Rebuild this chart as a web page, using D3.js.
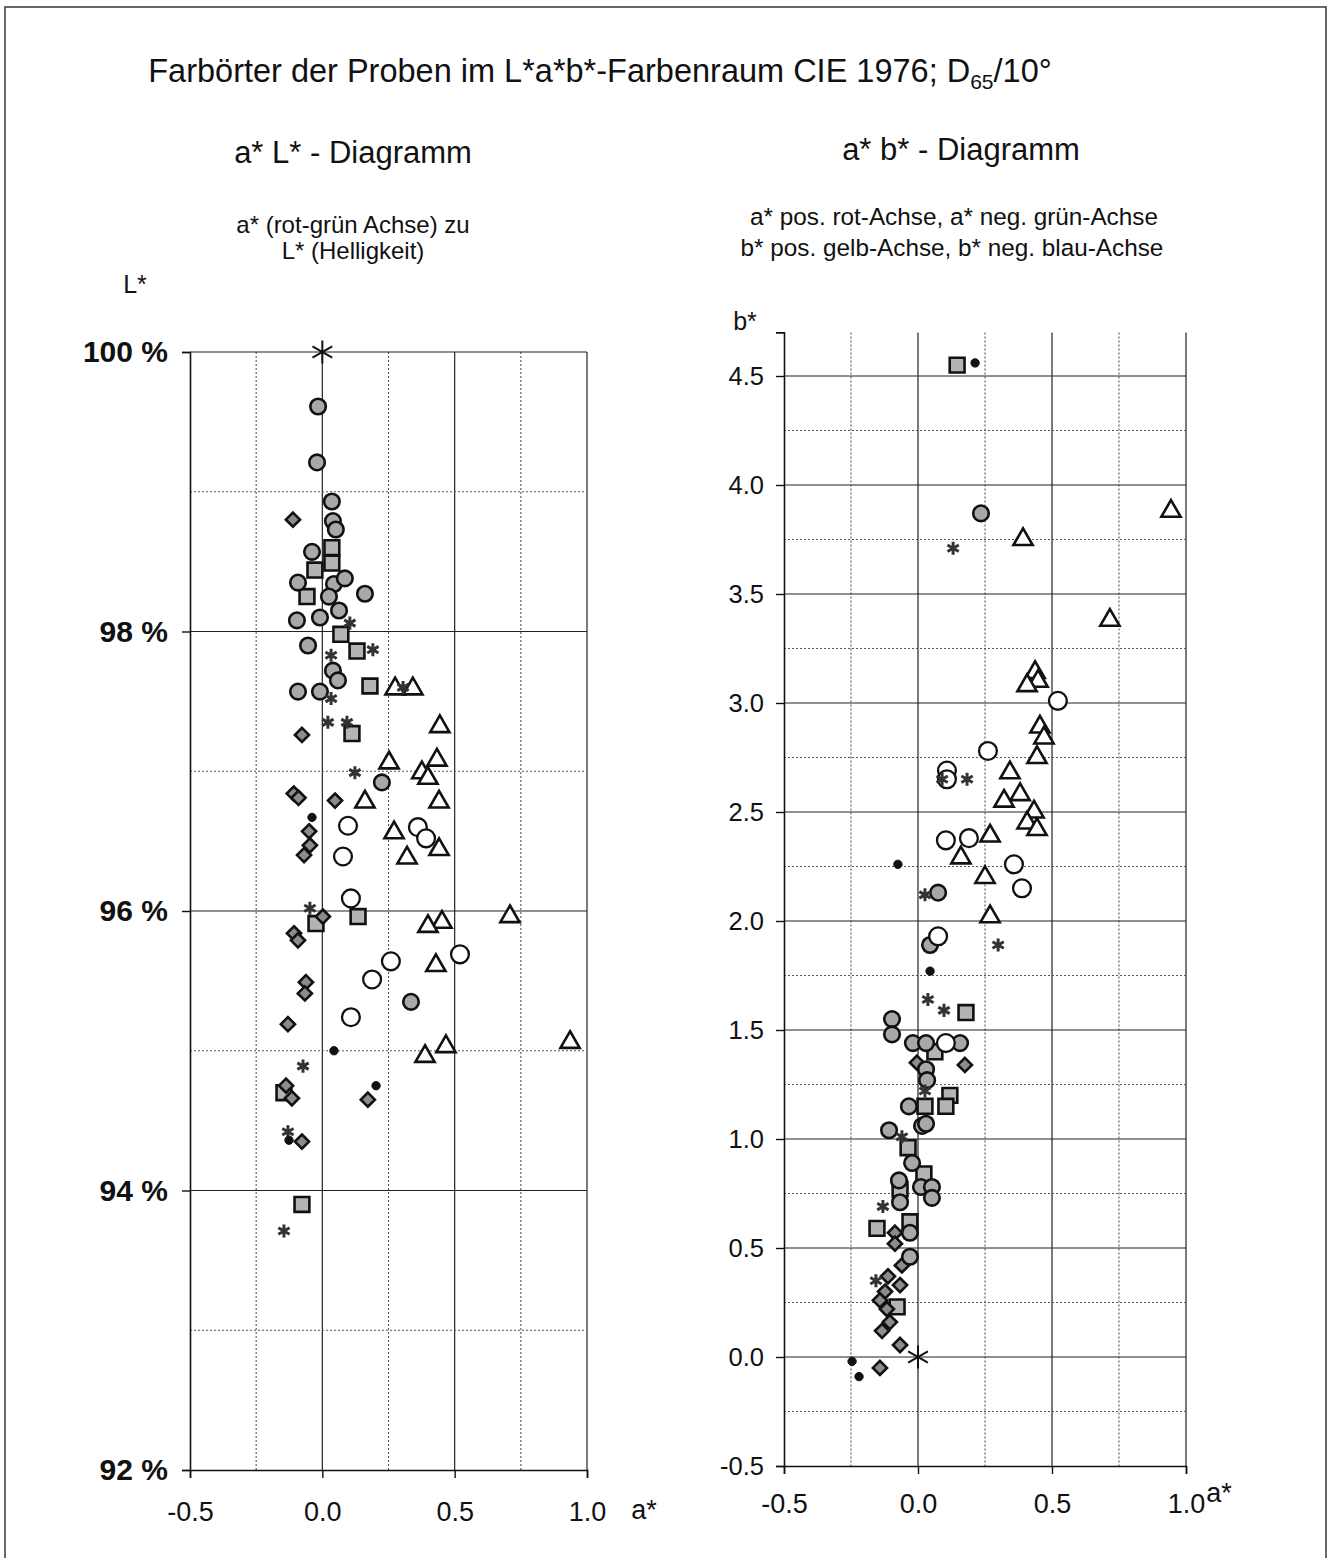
<!DOCTYPE html>
<html><head><meta charset="utf-8">
<script src="https://cdn.jsdelivr.net/npm/d3@7"></script>
<style>
html,body{margin:0;padding:0;background:#fff;}
text{font-family:"Liberation Sans",Arial,Helvetica,sans-serif;fill:#111;}
</style></head>
<body><svg id="chart" width="1333" height="1558"></svg>
<script>
// ---------- DATA ----------
// Left chart: a* vs L* (%)
const leftGrayCircle = [[-0.016,99.61],[-0.02,99.21],[0.036,98.93],[0.04,98.79],[0.051,98.73],[-0.039,98.57],[-0.092,98.35],[0.044,98.34],[0.085,98.38],[0.025,98.25],[0.161,98.27],[0.063,98.15],[-0.009,98.10],[-0.096,98.08],[-0.054,97.90],[0.04,97.72],[0.059,97.65],[-0.092,97.57],[-0.009,97.57],[0.225,96.92],[0.335,95.35]];
const leftSquare = [[0.036,98.60],[0.036,98.49],[-0.028,98.44],[-0.058,98.25],[0.07,97.98],[0.131,97.86],[0.18,97.61],[0.112,97.27],[-0.024,95.91],[0.135,95.96],[-0.145,94.70],[-0.077,93.90]];
const leftDiamond = [[-0.111,98.80],[-0.077,97.26],[-0.108,96.84],[-0.09,96.81],[0.048,96.79],[-0.05,96.57],[-0.047,96.47],[-0.069,96.40],[0.002,95.96],[-0.107,95.84],[-0.092,95.79],[-0.062,95.49],[-0.066,95.41],[-0.13,95.19],[-0.137,94.75],[-0.115,94.66],[0.172,94.65],[-0.077,94.35]];
const leftTriangle = [[0.275,97.59],[0.342,97.59],[0.444,97.32],[0.252,97.06],[0.433,97.08],[0.376,96.99],[0.399,96.95],[0.161,96.78],[0.441,96.78],[0.271,96.56],[0.441,96.44],[0.32,96.38],[0.709,95.96],[0.452,95.92],[0.399,95.89],[0.429,95.61],[0.467,95.03],[0.388,94.96],[0.936,95.06]];
const leftOpenCircle = [[0.097,96.61],[0.361,96.60],[0.392,96.52],[0.078,96.39],[0.108,96.09],[0.52,95.69],[0.259,95.64],[0.188,95.51],[0.108,95.24]];
const leftAsterisk = [[0.104,98.06],[0.191,97.87],[0.033,97.83],[0.033,97.52],[0.021,97.35],[0.093,97.35],[0.305,97.60],[0.123,96.99],[-0.047,96.02],[-0.073,94.89],[-0.13,94.42],[-0.145,93.71]];
const leftDot = [[-0.039,96.67],[0.044,95.00],[0.203,94.75],[-0.126,94.36]];
const leftReference = [[0,100]];

// Right chart: a* vs b*
const rightGrayCircle = [[0.235,3.87],[0.075,2.13],[0.045,1.89],[-0.097,1.55],[-0.097,1.48],[-0.019,1.44],[0.03,1.44],[0.157,1.44],[0.03,1.32],[0.034,1.27],[-0.034,1.15],[0.015,1.06],[0.03,1.07],[-0.108,1.04],[-0.022,0.89],[-0.071,0.81],[0.011,0.78],[0.052,0.78],[0.052,0.73],[-0.067,0.71],[-0.03,0.57],[-0.03,0.46]];
const rightSquare = [[0.146,4.55],[0.179,1.58],[0.063,1.40],[0.119,1.20],[0.104,1.15],[0.026,1.15],[-0.037,0.96],[0.022,0.84],[-0.067,0.77],[-0.03,0.62],[-0.153,0.59],[-0.078,0.23]];
const rightDiamond = [[-0.004,1.35],[0.175,1.34],[-0.086,0.57],[-0.086,0.52],[-0.06,0.42],[-0.112,0.37],[-0.067,0.33],[-0.123,0.30],[-0.142,0.26],[-0.116,0.22],[-0.105,0.16],[-0.134,0.12],[-0.067,0.055],[-0.142,-0.05]];
const rightTriangle = [[0.392,3.75],[0.944,3.88],[0.716,3.38],[0.437,3.14],[0.448,3.10],[0.407,3.08],[0.455,2.89],[0.47,2.84],[0.444,2.75],[0.343,2.68],[0.381,2.58],[0.321,2.55],[0.433,2.50],[0.407,2.45],[0.444,2.42],[0.269,2.39],[0.16,2.29],[0.25,2.20],[0.269,2.02]];
const rightOpenCircle = [[0.522,3.01],[0.261,2.78],[0.108,2.69],[0.108,2.65],[0.104,2.37],[0.19,2.38],[0.358,2.26],[0.388,2.15],[0.075,1.93],[0.104,1.44]];
const rightAsterisk = [[0.131,3.71],[0.09,2.65],[0.183,2.65],[0.026,2.12],[0.299,1.89],[0.037,1.64],[0.097,1.59],[0.026,1.22],[-0.06,1.01],[-0.131,0.69],[-0.157,0.35]];
const rightDot = [[0.213,4.56],[-0.075,2.26],[0.045,1.77],[-0.246,-0.02],[-0.22,-0.09]];
const rightReference = [[0,0]];

// Tick labels
const xTickValues = [-0.5, 0.0, 0.5, 1.0];
const xTickLabels = ["-0.5", "0.0", "0.5", "1.0"];
const leftYTickValues = [100, 98, 96, 94, 92];
const leftYTickLabels = ["100 %", "98 %", "96 %", "94 %", "92 %"];
const rightYTickValues = [4.5, 4.0, 3.5, 3.0, 2.5, 2.0, 1.5, 1.0, 0.5, 0.0, -0.5];
const rightYTickLabels = ["4.5", "4.0", "3.5", "3.0", "2.5", "2.0", "1.5", "1.0", "0.5", "0.0", "-0.5"];

// ---------- DRAW ----------
const svg = d3.select("#chart");

// outer frame
svg.append("rect").attr("x",5).attr("y",7).attr("width",1321).attr("height",1570)
  .attr("fill","none").attr("stroke","#444").attr("stroke-width",1.6);

// title
const title = svg.append("text").attr("x",600).attr("y",82).attr("text-anchor","middle")
  .attr("font-size",32.5);
title.append("tspan").text("Farbörter der Proben im L*a*b*-Farbenraum CIE 1976; D");
title.append("tspan").attr("font-size",21).attr("dy",7).text("65");
title.append("tspan").attr("dy",-7).text("/10°");

// custom symbols
const asteriskSym = { draw(ctx, size) {
  const r = Math.sqrt(size) / 2;
  const c = Math.cos(Math.PI/6) * r, s = Math.sin(Math.PI/6) * r;
  ctx.moveTo(0,-r); ctx.lineTo(0,r);
  ctx.moveTo(-c,-s); ctx.lineTo(c,s);
  ctx.moveTo(-c,s); ctx.lineTo(c,-s);
}};
const diamondSym = { draw(ctx, size) {
  const r = Math.sqrt(size) / 2;
  ctx.moveTo(0,-r); ctx.lineTo(r,0); ctx.lineTo(0,r); ctx.lineTo(-r,0); ctx.closePath();
}};

function drawPanel(cfg) {
  const g = svg.append("g");
  const x = cfg.x, y = cfg.y;
  const [x0,x1] = x.range(); const [yb, yt] = y.range();
  cfg.vGrid.forEach(v => {
    const major = Math.abs(v*2 - Math.round(v*2)) < 1e-6;
    g.append("line").attr("x1",x(v)).attr("x2",x(v)).attr("y1",yt).attr("y2",yb)
      .attr("stroke", major ? "#222" : "#555").attr("stroke-width", major ? 1.2 : 1.1)
      .attr("stroke-dasharray", major ? null : "2,2");
  });
  cfg.hGrid.forEach(v => {
    const major = cfg.isMajorY(v);
    g.append("line").attr("x1",x0).attr("x2",x1).attr("y1",y(v)).attr("y2",y(v))
      .attr("stroke", major ? "#222" : "#555").attr("stroke-width", major ? 1.2 : 1.1)
      .attr("stroke-dasharray", major ? null : "2,2");
  });
  const yAxis = d3.axisLeft(y).tickValues(cfg.yTicks).tickFormat((d,i)=>cfg.yLabels[i]).tickSize(8).tickPadding(cfg.yPad);
  const ya = g.append("g").attr("transform",`translate(${x0},0)`).call(yAxis);
  ya.select(".domain").attr("stroke","#111").attr("stroke-width",1.6);
  ya.selectAll(".tick line").attr("stroke","#111").attr("stroke-width",1.4);
  ya.selectAll(".tick text").attr("font-size",cfg.yFont).attr("font-weight",cfg.yWeight)
    .attr("fill","#111").attr("font-family",'"Liberation Sans",Arial,sans-serif');
  const xAxis = d3.axisBottom(x).tickValues(xTickValues).tickFormat((d,i)=>xTickLabels[i]).tickSize(8).tickPadding(cfg.xPad);
  const xa = g.append("g").attr("transform",`translate(0,${yb})`).call(xAxis);
  xa.select(".domain").attr("stroke","#111").attr("stroke-width",1.6);
  xa.selectAll(".tick line").attr("stroke","#111").attr("stroke-width",1.4);
  xa.selectAll(".tick text").attr("font-size",27).attr("fill","#111")
    .attr("font-family",'"Liberation Sans",Arial,sans-serif');

  const sym = (type,size) => d3.symbol().type(type).size(size)();
  const mark = (data, path, fill, stroke, sw) => {
    g.append("g").selectAll("path").data(data).join("path")
      .attr("d", path).attr("transform", d => `translate(${x(d[0])},${y(d[1])})`)
      .attr("fill", fill).attr("stroke", stroke).attr("stroke-width", sw);
  };
  const s = cfg.series;
  mark(s.square, sym(d3.symbolSquare, 220), "#b4b4b4", "#111", 2.6);
  mark(s.diamond, sym(diamondSym, 200), "#8c8c8c", "#111", 2.6);
  mark(s.grayCircle, sym(d3.symbolCircle, 190), "#a8a8a8", "#111", 2.6);
  mark(s.triangle, sym(d3.symbolTriangle, 160), "#fff", "#111", 2.6);
  mark(s.openCircle, sym(d3.symbolCircle, 250), "#fff", "#111", 2.3);
  mark(s.asterisk, sym(asteriskSym, 170), "none", "#333", 3);
  mark(s.dot, sym(d3.symbolCircle, 55), "#111", "#111", 1);
  mark(s.reference, sym(asteriskSym, 520), "none", "#111", 2);
}

const xL = d3.scaleLinear().domain([-0.5,1.0]).range([190,587]);
const yL = d3.scaleLinear().domain([92,100]).range([1470,352]);
drawPanel({x:xL, y:yL,
  vGrid:[-0.25,0,0.25,0.5,0.75,1.0], hGrid:d3.range(93,101,1),
  isMajorY: v => v % 2 === 0,
  yTicks:leftYTickValues, yLabels:leftYTickLabels, yFont:30, yWeight:"bold", yPad:14, xPad:24,
  series:{grayCircle:leftGrayCircle, square:leftSquare, diamond:leftDiamond, triangle:leftTriangle,
    openCircle:leftOpenCircle, asterisk:leftAsterisk, dot:leftDot, reference:leftReference}});

const xR = d3.scaleLinear().domain([-0.5,1.0]).range([784,1186]);
const yR = d3.scaleLinear().domain([-0.5,4.7]).range([1466,332.4]);
drawPanel({x:xR, y:yR,
  vGrid:[-0.25,0,0.25,0.5,0.75,1.0], hGrid:d3.range(-0.25,4.6,0.25).map(v=>Math.round(v*100)/100),
  isMajorY: v => Math.abs(v*2 - Math.round(v*2)) < 1e-6,
  yTicks:rightYTickValues, yLabels:rightYTickLabels, yFont:25.5, yWeight:"normal", yPad:12, xPad:20,
  series:{grayCircle:rightGrayCircle, square:rightSquare, diamond:rightDiamond, triangle:rightTriangle,
    openCircle:rightOpenCircle, asterisk:rightAsterisk, dot:rightDot, reference:rightReference}});

// headings and labels
const txt = (x,y,t,size,anchor) => svg.append("text").attr("x",x).attr("y",y)
  .attr("font-size",size).attr("text-anchor",anchor||"middle").text(t);
txt(353,163,"a* L* - Diagramm",31);
txt(961,160,"a* b* - Diagramm",31);
txt(353,233,"a* (rot-grün Achse) zu",24);
txt(353,259,"L* (Helligkeit)",24);
txt(954,225,"a* pos. rot-Achse, a* neg. grün-Achse",24.3);
txt(952,256,"b* pos. gelb-Achse, b* neg. blau-Achse",24.3);
txt(135,293,"L*",25);
txt(745,330,"b*",25);
txt(644,1519,"a*",27);
txt(1219,1502,"a*",27);
</script></body></html>
